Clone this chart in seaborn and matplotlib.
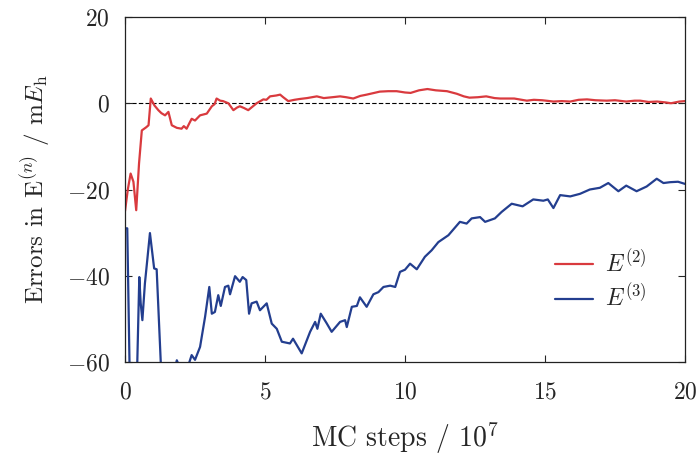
import numpy as np
import pandas as pd
import matplotlib
matplotlib.use("Agg")
import matplotlib.pyplot as plt
import seaborn as sns

# ---- data ----
x_e2 = [0.0, 0.1, 0.2, 0.3, 0.4, 0.5, 0.6, 0.75, 0.84, 0.92, 1.05, 1.19, 1.3, 1.43, 1.55,
        1.67, 1.85, 2.02, 2.1, 2.2, 2.3, 2.38, 2.5, 2.68, 2.8, 2.92, 3.1, 3.2, 3.27, 3.4,
        3.5, 3.69, 3.87, 4.0, 4.1, 4.25, 4.4, 4.55, 4.7, 4.94, 5.05, 5.18, 5.4, 5.54, 5.65,
        5.83, 6.05, 6.25, 6.5, 6.85, 7.1, 7.4, 7.68, 7.9, 8.15, 8.4, 8.63, 8.9, 9.1, 9.4,
        9.7, 10.0, 10.2, 10.5, 10.8, 11.1, 11.5, 11.85, 12.1, 12.3, 12.6, 12.9, 13.2, 13.4,
        13.9, 14.35, 14.6, 14.9, 15.3, 15.6, 15.9, 16.2, 16.5, 16.8, 17.2, 17.5, 17.9, 18.2,
        18.4, 18.7, 19.0, 19.3, 19.5, 19.8, 20.0]
y_e2 = [-25, -20, -16.3, -18.2, -24.8, -14, -6.3, -5.6, -5.1, 1.1, -0.5, -1.6, -2.3, -2.8, -2.0,
        -5.1, -5.7, -5.9, -5.3, -5.9, -4.6, -3.6, -4.0, -2.8, -2.6, -2.4, -0.7, -0.2, 1.1, 0.6,
        0.5, 0.0, -1.6, -1.0, -0.7, -1.1, -1.6, -0.8, 0.0, 0.9, 0.8, 1.6, 1.8, 2.0, 1.4,
        0.5, 0.8, 1.0, 1.2, 1.6, 1.2, 1.4, 1.6, 1.4, 1.1, 1.7, 2.0, 2.4, 2.7, 2.8,
        2.8, 2.5, 2.4, 3.0, 3.3, 3.0, 2.8, 2.2, 1.6, 1.3, 1.4, 1.6, 1.2, 1.1,
        1.1, 0.6, 0.8, 0.7, 0.4, 0.5, 0.4, 0.8, 0.9, 0.7, 0.6, 0.7, 0.4, 0.6,
        0.6, 0.3, 0.4, 0.2, 0.0, 0.4, 0.5]

x_e3 = [0.0, 0.08, 0.18, 0.3, 0.42, 0.51, 0.56, 0.62, 0.71, 0.8, 0.89, 1.04, 1.13, 1.31, 1.5,
        1.7, 1.85, 2.0, 2.25, 2.38, 2.5, 2.68, 2.86, 3.01, 3.1, 3.21, 3.33, 3.42, 3.57, 3.69,
        3.75, 3.93, 4.1, 4.2, 4.33, 4.43, 4.52, 4.7, 4.82, 5.06, 5.24, 5.42, 5.6, 5.89, 6.0,
        6.31, 6.61, 6.79, 6.87, 6.99, 7.2, 7.38, 7.68, 7.86, 7.92, 8.1, 8.28, 8.39, 8.63, 8.87,
        9.05, 9.23, 9.47, 9.65, 9.82, 10.0, 10.18, 10.42, 10.71, 10.95, 11.19, 11.55, 11.96, 12.2,
        12.38, 12.68, 12.86, 13.21, 13.45, 13.81, 14.2, 14.58, 14.94, 15.1, 15.3, 15.54, 15.9,
        16.25, 16.6, 16.96, 17.26, 17.62, 17.9, 18.27, 18.63, 18.99, 19.23, 19.47, 19.75, 20.0]
y_e3 = [-29, -29, -68, -70, -65, -40.3, -46.4, -50.3, -41.8, -36, -30.1, -38.3, -38.5, -65, -68,
        -64, -59.6, -62, -61, -58.4, -59.5, -56.5, -49.5, -42.6, -48.8, -48.4, -44.5, -47, -42.6, -42.3,
        -44.3, -40.1, -41.4, -40.3, -41, -48.8, -46.4, -46, -48, -46.4, -51.1, -52.3, -55.3, -55.7, -54.6,
        -58, -53, -50.7, -52.3, -48.8, -51, -53, -50.7, -50.3, -51.9, -47.2, -47, -45, -47.2, -44.3,
        -43.8, -42.6, -42.3, -42.6, -39.1, -38.6, -37.2, -38.5, -35.6, -34.1, -32.2, -30.6, -27.5, -27.9,
        -26.7, -26.4, -27.5, -26.7, -25.2, -23.3, -23.9, -22.3, -22.6, -22.3, -24.3, -21.3, -21.6,
        -21.0, -20.0, -19.6, -18.5, -20.4, -19.1, -20.4, -19.3, -17.5, -18.5, -18.3, -18.2, -18.7]

labels = ["$E^{(2)}$", "$E^{(3)}$"]
xticks = [0, 5, 10, 15, 20]
yticks = [-60, -40, -20, 0, 20]

df = pd.concat([
    pd.DataFrame({"x": x_e2, "y": y_e2, "series": labels[0]}),
    pd.DataFrame({"x": x_e3, "y": y_e3, "series": labels[1]}),
], ignore_index=True)

sns.set_style("ticks")
plt.rcParams["font.family"] = ["cmr10", "DejaVu Serif"]
plt.rcParams["mathtext.fontset"] = "cm"
plt.rcParams["axes.formatter.use_mathtext"] = True
plt.rcParams["axes.unicode_minus"] = True

fig = plt.figure(figsize=(7, 4.55), dpi=100)
ax = fig.add_axes([0.1786, 0.2044, 0.8, 0.7582])

palette = {labels[0]: "#d93a3e", labels[1]: "#233e8f"}
sns.lineplot(data=df, x="x", y="y", hue="series", palette=palette, lw=1.6,
             sort=False, estimator=None, ax=ax)
ax.axhline(0, color="black", lw=0.8, ls=(0, (4, 2)), zorder=0.5)

ax.set_xlim(0, 20)
ax.set_ylim(-60, 20)
ax.set_xticks(xticks)
ax.set_yticks(yticks)
ax.tick_params(direction="in", top=True, right=True, length=5, width=0.8,
               labelsize=17)
ax.tick_params(axis="x", pad=14)
ax.tick_params(axis="y", pad=11)
for s in ax.spines.values():
    s.set_linewidth(0.9)
    s.set_color("#222222")

ax.set_xlabel("MC steps / 10$^7$", fontsize=20, labelpad=12)
ax.set_ylabel("Errors in E$^{(n)}$ / m$E_\\mathrm{h}$", fontsize=18, labelpad=11)

leg = ax.legend(frameon=False, fontsize=17, loc="center left",
                bbox_to_anchor=(0.73, 0.235), handlelength=1.6, handletextpad=0.5,
                labelspacing=0.3)

fig.savefig("out.png", dpi=100)
